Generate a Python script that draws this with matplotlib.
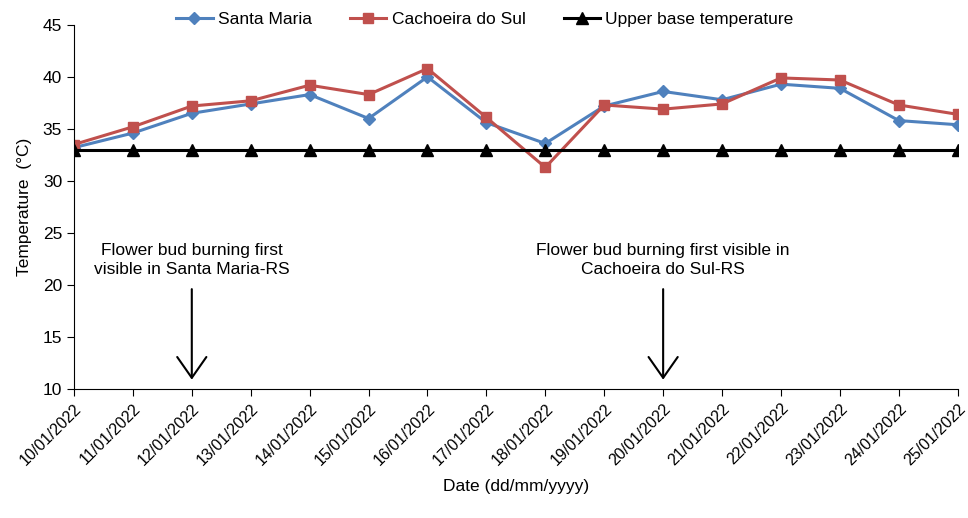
import matplotlib
matplotlib.use("Agg")
from matplotlib import pyplot as plt

plt.rcParams['font.family'] = ['Liberation Sans', 'DejaVu Sans']

dates = ["10/01/2022", "11/01/2022", "12/01/2022", "13/01/2022", "14/01/2022",
         "15/01/2022", "16/01/2022", "17/01/2022", "18/01/2022", "19/01/2022",
         "20/01/2022", "21/01/2022", "22/01/2022", "23/01/2022", "24/01/2022",
         "25/01/2022"]
santa_maria = [33.2, 34.6, 36.5, 37.4, 38.3, 36.0, 40.0, 35.6, 33.6, 37.2,
               38.6, 37.8, 39.3, 38.9, 35.8, 35.4]
cachoeira = [33.5, 35.2, 37.2, 37.7, 39.2, 38.3, 40.8, 36.1, 31.3, 37.3,
             36.9, 37.4, 39.9, 39.7, 37.3, 36.4]
upper_base = [33] * len(dates)

# annotation events: (date index, text)
events = [(2, "Flower bud burning first\nvisible in Santa Maria-RS"),
          (10, "Flower bud burning first visible in\nCachoeira do Sul-RS")]


def main():
    fig = plt.figure(figsize=(9.68, 5.18), dpi=100)
    ax = fig.add_axes([0.0764, 0.249, 0.913, 0.703])
    x = list(range(len(dates)))

    ax.plot(x, santa_maria, color="#4F81BD", lw=2.2, marker="D", ms=6.5, label="Santa Maria")
    ax.plot(x, cachoeira, color="#C0504D", lw=2.2, marker="s", ms=7, label="Cachoeira do Sul")
    ax.plot(x, upper_base, color="black", lw=2.2, marker="^", ms=8, label="Upper base temperature")

    for i, txt in events:
        ax.annotate("", xy=(i, 10.9), xytext=(i, 19.6),
                    arrowprops=dict(arrowstyle="->,head_length=0.5,head_width=0.35",
                                    color="black", lw=1.5, mutation_scale=30,
                                    shrinkA=0, shrinkB=0))
        ax.text(i, 22.4, txt, ha="center", va="center", fontsize=12.5, linespacing=1.3)

    ax.set_xlim(0, len(dates) - 1)
    ax.set_ylim(10, 45)
    ax.set_yticks(range(10, 46, 5))
    ax.set_xticks(x)
    ax.set_xticklabels(dates, rotation=45, ha="right", rotation_mode="anchor", fontsize=11.5)
    ax.tick_params(axis="y", labelsize=12.5, length=5)
    ax.tick_params(axis="x", length=5)

    for s in ["top", "right"]:
        ax.spines[s].set_visible(False)

    ax.set_ylabel("Temperature  (°C)", fontsize=12.5, labelpad=8)
    ax.set_xlabel("Date (dd/mm/yyyy)", fontsize=12.5, labelpad=8)

    ax.legend(loc="lower center", bbox_to_anchor=(0.465, 0.975), ncol=3, frameon=False,
              fontsize=12.5, handlelength=2.1, handletextpad=0.3, columnspacing=2.2,
              borderaxespad=0)

    fig.savefig("out.png")
    plt.close(fig)


if __name__ == "__main__":
    main()
